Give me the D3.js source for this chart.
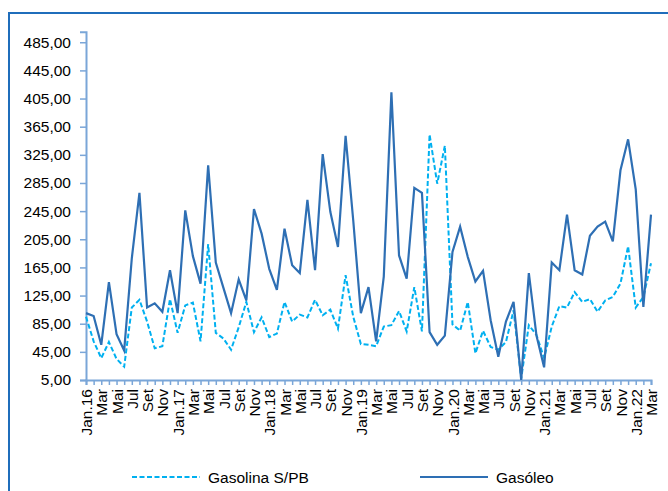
<!DOCTYPE html>
<html>
<head>
<meta charset="utf-8">
<script src="https://cdn.jsdelivr.net/npm/d3@7"></script>
<style>
  body { margin: 0; background: #fff; }
  svg { display: block; font-family: "Liberation Sans", Arial, sans-serif; }
</style>
</head>
<body>
<svg id="canvas" width="668" height="491"></svg>
<script>
let months = ['Jan', 'Fev', 'Mar', 'Abr', 'Mai', 'Jun', 'Jul', 'Ago', 'Set', 'Out', 'Nov', 'Dez'];
let years = ['16', '17', '18', '19', '20', '21', '22'];
let yTicks = [5, 45, 85, 125, 165, 205, 245, 285, 325, 365, 405, 445, 485];

let gasolina = [95, 60, 36, 59, 35, 24, 108, 119, 88, 50, 53, 120,
                72, 111, 115, 60, 198, 72, 64, 48, 80, 116, 73, 94,
                66, 71, 116, 88, 98, 94, 119, 97, 105, 78, 154, 95,
                56, 55, 53, 81, 83, 103, 74, 137, 74, 354, 284, 338,
                84, 75, 116, 43, 75, 52, 48, 59, 104, 7, 83, 69,
                36, 81, 110, 108, 130, 116, 120, 102, 118, 123, 142, 195,
                108, 123, 171];
let gasoleo = [100, 96, 55, 144, 70, 47, 178, 271, 108, 114, 102, 161,
               100, 246, 181, 142, 310, 172, 136, 100, 148, 118, 248, 213,
               163, 133, 220, 168, 157, 261, 161, 326, 244, 194, 352, 232,
               100, 137, 60, 152, 414, 182, 149, 278, 271, 73, 55, 68,
               187, 223, 180, 145, 160, 90, 38, 88, 116, 5, 157, 68,
               23, 172, 161, 240, 161, 155, 210, 223, 230, 202, 303, 347,
               276, 109, 240];

// Jan.16 ... Mar.22
let categories = [];
years.forEach(y => {
  months.forEach((m, i) => {
    if (categories.length < gasoleo.length) {
      categories.push(i == 0 ? m + '.' + y : m);
    }
  });
});

let svg = d3.select('#canvas');
let fontSize = '15.5px';

// moldura
svg.append('rect')
   .attr('x', 9).attr('y', 13)
   .attr('width', 700).attr('height', 520)
   .attr('fill', 'none')
   .attr('stroke', '#1f6dbb')
   .attr('stroke-width', 2);

let xScale = d3.scalePoint()
               .domain(d3.range(categories.length))
               .range([86, 651]);
let yScale = d3.scaleLinear()
               .domain([5, 500])
               .range([380, 31.7]);

let axisColor = '#7aa6d8';

let yAxis = d3.axisLeft(yScale)
              .tickValues(yTicks)
              .tickSizeOuter(0)
              .tickSize(6)
              .tickPadding(9)
              .tickFormat(d => d3.format('.2f')(d).replace('.', ','));
let gy = svg.append('g')
   .attr('transform', 'translate(86,0)')
   .call(yAxis);
gy.select('.domain').attr('stroke', axisColor).attr('stroke-width', 2);
gy.selectAll('.tick line').attr('stroke', axisColor).attr('stroke-width', 1.5);
gy.selectAll('.tick text')
  .attr('fill', '#000')
  .style('font-size', fontSize)
  .style('font-family', '"Liberation Sans", Arial, sans-serif');

let xAxis = d3.axisBottom(xScale)
              .tickSizeOuter(0)
              .tickSize(5)
              .tickFormat('');
let gx = svg.append('g')
   .attr('transform', 'translate(0,380)')
   .call(xAxis);
gx.select('.domain').attr('stroke', axisColor).attr('stroke-width', 2);
gx.selectAll('.tick line').attr('stroke', axisColor).attr('stroke-width', 1.5);

// so os meses impares levam texto
gx.selectAll('.tick')
  .filter(d => d % 2 == 0)
  .append('text')
  .attr('transform', 'rotate(-90)')
  .attr('x', -9)
  .attr('y', 0)
  .attr('dy', '0.36em')
  .attr('text-anchor', 'end')
  .attr('fill', '#000')
  .style('font-size', fontSize)
  .text(d => categories[d]);

let line = d3.line()
             .x((d, i) => xScale(i))
             .y(d => yScale(d));

svg.append('path')
   .datum(gasolina)
   .attr('d', line)
   .attr('fill', 'none')
   .attr('stroke', '#00b0f0')
   .attr('stroke-width', 2)
   .attr('stroke-dasharray', '5,2.5');

svg.append('path')
   .datum(gasoleo)
   .attr('d', line)
   .attr('fill', 'none')
   .attr('stroke', '#2e6fb4')
   .attr('stroke-width', 2.2);

// legenda
let legendData = [
  {name: 'Gasolina S/PB', color: '#00b0f0', dash: '5,2.5', x: 132},
  {name: 'Gasóleo', color: '#2e6fb4', dash: null, x: 420}
];
let legend = svg.selectAll('.legend')
                .data(legendData)
                .enter()
                .append('g')
                .attr('class', 'legend')
                .attr('transform', d => 'translate(' + d.x + ',477)');
legend.append('line')
      .attr('x1', 0).attr('x2', 68)
      .attr('stroke', d => d.color)
      .attr('stroke-width', 2)
      .attr('stroke-dasharray', d => d.dash);
legend.append('text')
      .attr('x', 76)
      .attr('y', 5.5)
      .style('font-size', fontSize)
      .text(d => d.name);
</script>
</body>
</html>
